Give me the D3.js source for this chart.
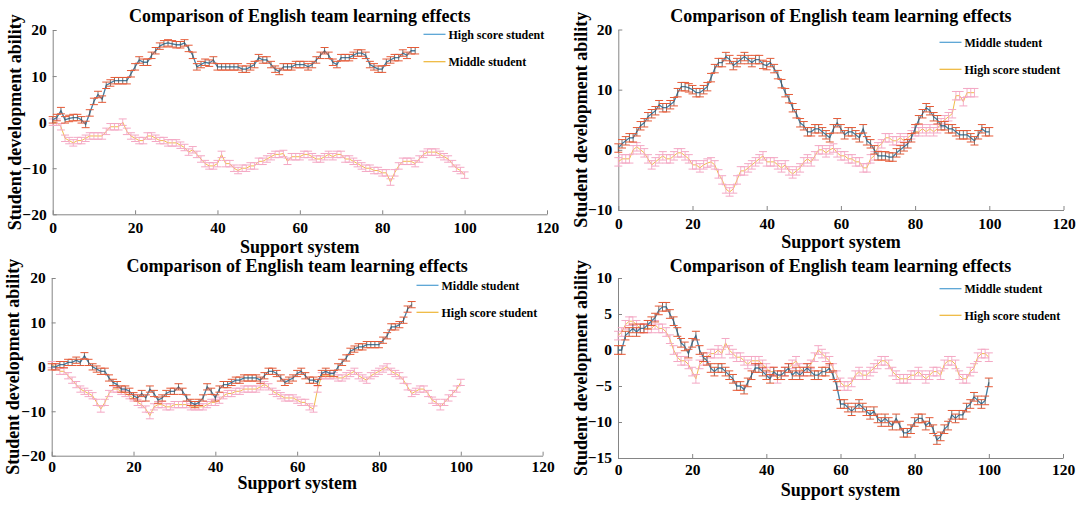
<!DOCTYPE html>
<html>
<head>
<meta charset="utf-8">
<script src="https://cdn.jsdelivr.net/npm/d3@7/dist/d3.min.js"></script>
<style>
  html, body { margin: 0; padding: 0; background: #fff; }
  svg { display: block; }
  text { font-family: "Liberation Serif", "Times New Roman", serif; font-weight: bold; fill: #000; }
</style>
</head>
<body>
<svg id="chart" width="1084" height="506"></svg>
<script>
// ---------------- DATA ----------------
const titleText = "Comparison of English team learning effects";
const xLabelText = "Support system";
const yLabelText = "Student development ability";
const xTicks = [0, 20, 40, 60, 80, 100, 120];
const yTicksA = [-20, -10, 0, 10, 20];
const yTicksB = [-10, 0, 10, 20];
const yTicksC = [-15, -10, -5, 0, 5, 10];
const legendP1 = ["High score student", "Middle student"];
const legendP234 = ["Middle student", "High score student"];
const errorHalf = [0.7, 0.7, 0.7, 0.6];

// Panel 1 (top-left): blue = High score student, yellow = Middle student
const p1Blue = [0.5,1,2.5,0.5,0.8,1,1,0.5,-0.5,2,
  4.5,6,5,8,8.5,9,9,9,9,10.5,
  12,13.5,13,13,14.5,15.5,16.5,17,17.2,17,
  16.8,16.8,17.2,16,14.5,12,12.5,13,12.8,13.5,
  12,12,12,12,12,12,11.5,11.5,12,12.5,
  14,13.5,13.5,12.5,11.5,11,12,12,12,12.5,
  12.5,12.5,12,12.5,13.5,14.5,15.5,14.5,13,12.5,
  14,14,14,14.5,15,15,14.5,12.5,12,11.5,
  11.5,13,13.5,14,14,15,14.5,15.5,15.5];
const p1Yellow = [0,0,-1,-3.5,-4,-4.5,-4,-4,-3.5,-3,
  -3,-3,-3,-2,-1,-1,-1,0,-2,-3,
  -3.5,-4,-4,-3,-3,-3.5,-4,-4,-4.5,-4.5,
  -4.5,-5,-5.5,-6.5,-6,-7,-8,-9,-9.5,-9.5,
  -9,-7,-9,-9,-10,-10.5,-10,-10,-9.5,-9.5,
  -8.5,-8.5,-8,-7.5,-7,-7,-6.8,-8.5,-7.5,-7.5,
  -7.5,-7,-7,-7.5,-8,-8,-7.5,-7,-7.5,-7,
  -7,-8,-8,-8.5,-9,-9.5,-10,-10,-10.5,-10.5,
  -11,-11,-13,-11,-9.5,-8.5,-8.5,-8.5,-9,-8,
  -7,-6.5,-6.5,-6.5,-7,-7.5,-8,-9,-10,-10.5,-11.5];

// Panel 2 (top-right): blue = Middle student, yellow = High score student
const p2Blue = [0.3,1,1.5,2,2,3,4,4.5,5.5,6,
  6.5,7.5,7,7,7.5,8,9.5,10.5,10.5,10.3,
  10,9.5,9.5,10,10.5,12,13.5,14.5,14.5,15.5,
  15,14,14.5,15,15.5,15,14.5,15,15,14.2,
  14,14.5,13.5,12.5,11,9.5,8.5,7,6,4.5,
  4,3,3,3.5,3.5,3,2.5,2,3.5,4.5,
  3.5,2.5,3,3,2.5,2,3.5,1.5,1,0,
  -1,-1,-1,-1.2,-1.2,-0.5,0,0.5,1,2,
  3.5,5,6,7,6.5,5.5,5,4,4,3.5,
  3.5,3,2.5,2.5,2.5,2,1.5,2.5,3.5,3,3];
const p2Yellow = [-2,-1.5,-1.5,-1.5,0,0.5,0,-0.5,-1.5,-2.5,
  -2,-1.5,-1,-1.5,-1.5,-1,-0.5,-0.5,-1,-1.5,
  -2.5,-2.5,-3,-2.5,-2.2,-2,-2.5,-4,-5,-6.5,
  -7,-6.5,-5,-3.5,-3.5,-3,-2.5,-2,-1.5,-1,
  -2,-2,-2,-2.5,-3,-2.5,-3.5,-4,-3.5,-3,
  -2,-1.5,-2,-1,0,0,-0.5,0,0.3,-0.5,
  -1,-1,-1.5,-1.5,-2,-2,-3,-3,-1.5,-1,
  0.5,1,2,2,1.5,1.5,2,1.5,2,2.5,
  3,3,3.5,3,3.5,3,3.5,4.5,5,5.5,
  6,9,9,8,9.5,9.5,9.5];

// Panel 3 (bottom-left): blue = Middle student, yellow = High score student
const p3Blue = [0,0,0.5,0.5,1,1,1.5,1,2.5,1,
  0,-0.5,-1,-1,-2.5,-3.5,-4,-5,-5,-5.5,
  -6.5,-7,-6,-7,-5,-6,-7.5,-7,-6,-5.5,
  -5.5,-4.5,-5.5,-7,-8,-8.5,-8,-7,-4.5,-5.5,
  -7,-5,-4,-4,-3.5,-3,-3,-2.5,-2.5,-2.5,
  -2.5,-3,-2,-1,-1,-1.5,-2.5,-3.5,-3,-2.5,
  -1.5,-1,-2,-3,-3,-3.5,-1.5,-1,-1.5,-1.5,
  0,1,2,3.5,4,4.5,4.5,5,5,5,
  5,6,7,9,9,9.5,10.5,13,14];
const p3Yellow = [0.5,0,-1,-1,-2,-3,-4,-5,-5.5,-6,
  -6.5,-8,-9.5,-8,-6,-5,-5,-5.5,-6,-6.5,
  -7,-8,-8.5,-9.5,-11,-9,-8.5,-8.5,-9,-9,
  -8.5,-8.5,-8.5,-8.5,-9,-9,-9,-9,-8.5,-8,
  -8,-7.5,-6.5,-6,-6,-5.5,-5.5,-5,-5,-5,
  -5,-4.5,-4,-4.5,-5.5,-6,-6.5,-7,-7,-7,
  -7.5,-8,-8,-9,-9.5,-5,-2,-2,-2,-2,
  -2.5,-2.5,-2,-1.5,-1,-2,-2.5,-3,-2,-1.5,
  -1,-0.5,0,-1,-1.5,-2,-3,-4.5,-6,-5.5,
  -5,-5,-6,-7.5,-8,-9,-8,-7,-6,-5,-3.5];

// Panel 4 (bottom-right): blue = Middle student, yellow = High score student
const p4Blue = [0,0,2,2.5,3,2.5,3,3,3.5,4,
  4.5,5.5,6,6,5,4,2.5,1,0.5,-0.5,
  1,2,0,-1,-1.5,-2.5,-3,-2.5,-2.5,-3,
  -3.5,-4,-5,-5,-5.5,-4.5,-3.5,-2.5,-2.5,-3,
  -3.5,-4,-3,-3.5,-3.5,-3,-2.5,-3.5,-3,-3.5,
  -3,-2.5,-3,-3.5,-3.5,-3,-3,-2.5,-3.5,-5,
  -7.5,-7.5,-8,-8.5,-8,-7.5,-8,-8.5,-9,-8.5,
  -9.5,-10,-9.5,-10,-10.5,-9.5,-10.5,-11.5,-11.5,-11,
  -10,-9.5,-9.5,-10.5,-10,-11,-12.5,-12,-11,-10.5,
  -9,-9.5,-9,-9,-8,-7.5,-6.5,-7,-7.5,-7,-4.5];
const p4Yellow = [2,2.5,3.5,4,4,3.5,3,3,3,3,
  3.5,3,3,2.5,1.5,0,-1,-1.5,-1.5,-2,
  -3,-4,-2,-1.5,-1,-0.5,-0.5,0,-0.5,1,
  0,-0.5,-1,-1,-1.5,-2,-1.5,-1.5,-1.5,-2,
  -2.5,-3,-3,-4,-3.5,-3,-2.5,-2,-1.5,-2.5,
  -3,-2.5,-2,-1,0,-0.5,-1,-1.5,-2.5,-3.5,
  -4.5,-5,-5,-4.5,-3.5,-3,-3.5,-3.5,-3,-2.5,
  -2,-1.5,-1.5,-2,-3,-3.5,-4,-4,-4,-3.5,
  -3.5,-3,-3.5,-4,-3.5,-3,-3,-3.5,-2,-1.5,
  -1.5,-2,-3.5,-4,-4,-3,-2.5,-1,-0.5,-0.5,-1];

// ---------------- LAYOUT ----------------
const panels = [
  { x0: 52.7, x1: 547, yTop: 30, yBot: 214.3, dom: [-20, 20], yTicks: yTicksA,
    blue: p1Blue, yellow: p1Yellow, legend: legendP1, err: errorHalf[0],
    titleY: 22, xLabY: 252.5, yLabX: 15, legX: 423.5, legY: [34.3, 61.7], tickPad: 8 },
  { x0: 618.3, x1: 1063.5, yTop: 29.5, yBot: 210, dom: [-10, 20], yTicks: yTicksB,
    blue: p2Blue, yellow: p2Yellow, legend: legendP234, err: errorHalf[1],
    titleY: 22, xLabY: 247.5, yLabX: 580.7, legX: 939.5, legY: [42.3, 69.3], tickPad: 8 },
  { x0: 51.7, x1: 542.6, yTop: 278, yBot: 455.7, dom: [-20, 20], yTicks: yTicksA,
    blue: p3Blue, yellow: p3Yellow, legend: legendP234, err: errorHalf[2],
    titleY: 271.5, xLabY: 489, yLabX: 13.3, legX: 416.5, legY: [285.3, 312.3], tickPad: 5 },
  { x0: 618, x1: 1063, yTop: 278, yBot: 458, dom: [-15, 10], yTicks: yTicksC,
    blue: p4Blue, yellow: p4Yellow, legend: legendP234, err: errorHalf[3],
    titleY: 271.5, xLabY: 496, yLabX: 580.7, legX: 939.5, legY: [288.7, 315.3], tickPad: 6 }
];

const svg = d3.select("#chart");
svg.append("rect").attr("width", 1084).attr("height", 506).attr("fill", "#fff");

const AXIS_COLOR = "#858585";
const BLUE = "#4f9fd2";
const YELLOW = "#eeb535";
const PINK = "#f4a8c4";
const CAP = "#e85a36";
const STEM = "#4a4a4a";

panels.forEach(p => {
  const x = d3.scaleLinear().domain([0, 120]).range([p.x0, p.x1]);
  const y = d3.scaleLinear().domain(p.dom).range([p.yBot, p.yTop]);
  const g = svg.append("g");

  // axes
  const ax = g.append("g").attr("transform", `translate(0,${p.yBot})`)
    .call(d3.axisBottom(x).tickValues(xTicks).tickSize(-4).tickSizeOuter(0).tickPadding(p.tickPad));
  const ay = g.append("g").attr("transform", `translate(${p.x0},0)`)
    .call(d3.axisLeft(y).tickValues(p.yTicks).tickSize(-4).tickSizeOuter(0).tickPadding(6));
  [ax, ay].forEach(a => {
    a.select(".domain").attr("stroke", AXIS_COLOR).attr("stroke-width", 1);
    a.selectAll(".tick line").attr("stroke", AXIS_COLOR);
    a.selectAll(".tick text").attr("font-family", "Liberation Serif, serif")
      .attr("font-weight", "bold").attr("font-size", 15.5).attr("fill", "#000");
  });

  const line = d3.line().x((d, i) => x(i)).y(d => y(d));

  // yellow series with pink error bars
  const gy = g.append("g");
  gy.append("path").datum(p.yellow).attr("d", line)
    .attr("fill", "none").attr("stroke", YELLOW).attr("stroke-width", 0.9);
  gy.selectAll("line.stem").data(p.yellow).join("line")
    .attr("x1", (d, i) => x(i)).attr("x2", (d, i) => x(i))
    .attr("y1", d => y(d - p.err)).attr("y2", d => y(d + p.err))
    .attr("stroke", PINK).attr("stroke-width", 0.9);
  [-1, 1].forEach(s => {
    gy.selectAll(null).data(p.yellow).join("line")
      .attr("x1", (d, i) => x(i) - 4).attr("x2", (d, i) => x(i) + 4)
      .attr("y1", d => y(d + s * p.err)).attr("y2", d => y(d + s * p.err))
      .attr("stroke", PINK).attr("stroke-width", 1);
  });

  // blue series with dark stems and orange-red caps
  const gb = g.append("g");
  gb.append("path").datum(p.blue).attr("d", line)
    .attr("fill", "none").attr("stroke", BLUE).attr("stroke-width", 1.3);
  gb.append("path").datum(p.blue).attr("d", line)
    .attr("fill", "none").attr("stroke", STEM).attr("stroke-opacity", 0.55).attr("stroke-width", 0.8);
  gb.selectAll("line.stem").data(p.blue).join("line")
    .attr("x1", (d, i) => x(i)).attr("x2", (d, i) => x(i))
    .attr("y1", d => y(d - p.err)).attr("y2", d => y(d + p.err))
    .attr("stroke", STEM).attr("stroke-width", 0.8);
  [-1, 1].forEach(s => {
    gb.selectAll(null).data(p.blue).join("line")
      .attr("x1", (d, i) => x(i) - 4).attr("x2", (d, i) => x(i) + 4)
      .attr("y1", d => y(d + s * p.err)).attr("y2", d => y(d + s * p.err))
      .attr("stroke", CAP).attr("stroke-width", 1);
  });

  // title
  g.append("text").attr("x", x(60)).attr("y", p.titleY).attr("text-anchor", "middle")
    .attr("font-size", 18).text(titleText);
  // x label
  g.append("text").attr("x", x(60)).attr("y", p.xLabY).attr("text-anchor", "middle")
    .attr("font-size", 18).text(xLabelText);
  // y label
  const yc = (p.yTop + p.yBot) / 2;
  g.append("text").attr("transform", `translate(${p.yLabX + 6},${yc}) rotate(-90)`)
    .attr("text-anchor", "middle").attr("font-size", 18).text(yLabelText);

  // legend
  const colors = [BLUE, YELLOW];
  p.legend.forEach((lab, k) => {
    g.append("line").attr("x1", p.legX).attr("x2", p.legX + 22)
      .attr("y1", p.legY[k]).attr("y2", p.legY[k])
      .attr("stroke", colors[k]).attr("stroke-width", 1.2);
    g.append("text").attr("x", p.legX + 25).attr("y", p.legY[k]).attr("dy", "0.35em")
      .attr("font-size", 12).text(lab);
  });
});
</script>
</body>
</html>
